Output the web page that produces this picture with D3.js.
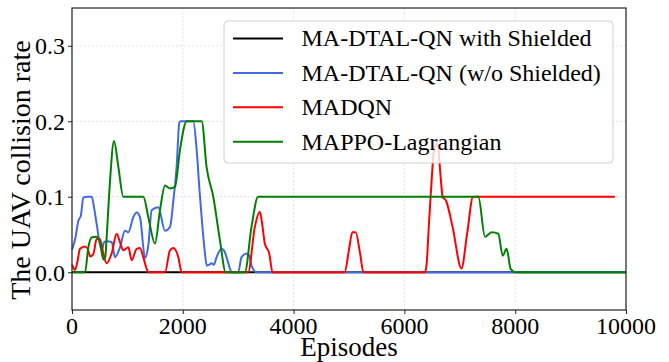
<!DOCTYPE html>
<html>
<head>
<meta charset="utf-8">
<script src="https://cdn.jsdelivr.net/npm/d3@7"></script>
<style>
  body { margin: 0; background: #fff; }
  svg text { font-family: "Liberation Serif", "Times New Roman", serif; fill: #000; }
</style>
</head>
<body>
<svg id="chart" width="669" height="362"></svg>
<script>
// series: episodes (x) and collision rate (y)
const blackEp  = [0, 10000];
const blackVal = [0, 0];

const blueEp  = [0, 60, 114, 160, 205, 280, 355, 400, 445, 535, 580, 625, 716, 776, 866, 957, 1017, 1107, 1167, 1227,
                 1318, 1378, 1438, 1558, 1679, 1769, 1830, 1889, 1937, 1960, 2190, 2250, 2300, 2340, 2400, 2430, 2480,
                 2520, 2560, 2610, 2700, 2750, 2790, 2850, 2880, 3000, 3060, 3150, 3200, 3240, 3330, 10000];
const blueVal = [0.030, 0.045, 0.068, 0.075, 0.099, 0.100, 0.100, 0.085, 0.064, 0.029, 0.040, 0.041, 0.040, 0.020, 0.033,
                 0.055, 0.053, 0.073, 0.079, 0.073, 0.019, 0.036, 0.082, 0.086, 0.055, 0.060, 0.095, 0.140, 0.198, 0.200,
                 0.200, 0.162, 0.110, 0.073, 0.025, 0.009, 0.010, 0.012, 0.010, 0.020, 0.031, 0.028, 0.020, 0.005, 0,
                 0, 0.020, 0.025, 0.022, 0.009, 0, 0];

const redEp  = [0, 54, 100, 144, 235, 290, 325, 385, 445, 505, 565, 625, 716, 806, 866, 926, 1017, 1077, 1167, 1227, 1287,
                1350, 1378, 1679, 1769, 1829, 1919, 1980, 3180, 3300, 3390, 3440, 3480, 3560, 3620, 4920, 5000, 5060,
                5120, 5200, 5260, 6370, 6400, 6440, 6490, 6540, 6600, 6650, 6690, 6750, 6870, 7030, 7130, 7240, 9800];
const redVal = [0.010, 0.003, 0.015, 0.031, 0.034, 0.030, 0.021, 0.024, 0.044, 0.044, 0.025, 0.012, 0.025, 0.051, 0.040,
                0.029, 0.033, 0.016, 0.031, 0.032, 0.020, 0.004, 0, 0, 0.029, 0.032, 0.020, 0, 0, 0.060, 0.080, 0.060,
                0.038, 0.025, 0, 0, 0.030, 0.053, 0.053, 0.025, 0, 0, 0.010, 0.060, 0.120, 0.165, 0.170, 0.130, 0.100,
                0.095, 0.060, 0.005, 0.050, 0.100, 0.100];

const greenEp  = [0, 235, 295, 355, 445, 505, 565, 600, 625, 686, 758, 836, 926, 1287, 1378, 1498, 1588, 1679, 1769, 1859,
                  1949, 2070, 2341, 2430, 2550, 2671, 2775, 3120, 3240, 3360, 7335, 7455, 7575, 7695, 7775, 7845, 7920,
                  8015, 10000];
const greenVal = [0, 0, 0.033, 0.046, 0.047, 0.040, 0.017, 0.020, 0.046, 0.121, 0.174, 0.140, 0.100, 0.100, 0.073, 0.038,
                  0.082, 0.115, 0.111, 0.113, 0.162, 0.200, 0.200, 0.139, 0.100, 0.042, 0, 0, 0.060, 0.100, 0.100, 0.047,
                  0.053, 0.051, 0.022, 0.031, 0.004, 0, 0];

const labels = ["MA-DTAL-QN with Shielded", "MA-DTAL-QN (w/o Shielded)", "MADQN", "MAPPO-Lagrangian"];
const colors = ["#000000", "#4169e1", "#ff0000", "#008000"];
const xTicks = [0, 2000, 4000, 6000, 8000, 10000];
const yTicks = [0, 0.1, 0.2, 0.3];

const series = [
  {ep: blackEp, val: blackVal},
  {ep: blueEp, val: blueVal},
  {ep: redEp, val: redVal},
  {ep: greenEp, val: greenVal}
];

const svg = d3.select("#chart");
const pLeft = 72, pRight = 626, pTop = 8, pBottom = 310;

const x = d3.scaleLinear().domain([0, 10000]).range([pLeft, pRight]);
const y = d3.scaleLinear().domain([-0.05, 0.35]).range([pBottom, pTop]);

// grid
svg.append("g").selectAll("line").data(xTicks).join("line")
  .attr("x1", d => x(d)).attr("x2", d => x(d)).attr("y1", pTop).attr("y2", pBottom)
  .attr("stroke", "#d9d9d9").attr("stroke-width", 0.8).attr("stroke-dasharray", "2,2");
svg.append("g").selectAll("line").data(yTicks).join("line")
  .attr("x1", pLeft).attr("x2", pRight).attr("y1", d => y(d)).attr("y2", d => y(d))
  .attr("stroke", "#d9d9d9").attr("stroke-width", 0.8).attr("stroke-dasharray", "2,2");

// lines
const line = d3.line()
  .x(d => x(d[0]))
  .y(d => y(d[1]))
  .curve(d3.curveMonotoneX);

svg.append("g").selectAll("path").data(series).join("path")
  .attr("d", s => line(d3.zip(s.ep, s.val)))
  .attr("fill", "none")
  .attr("stroke", (s, i) => colors[i])
  .attr("stroke-width", 2)
  .attr("stroke-linejoin", "round");

// axes: tick marks from d3, labels drawn as plain serif text
svg.append("g").attr("transform", `translate(0,${pBottom})`)
  .call(d3.axisBottom(x).tickValues(xTicks).tickFormat("").tickSize(4))
  .call(g => g.select(".domain").remove())
  .call(g => g.selectAll("line").attr("stroke", "#222"));
svg.append("g").attr("transform", `translate(${pLeft},0)`)
  .call(d3.axisLeft(y).tickValues(yTicks).tickFormat("").tickSize(4))
  .call(g => g.select(".domain").remove())
  .call(g => g.selectAll("line").attr("stroke", "#222"));

svg.append("g").selectAll("text").data(xTicks).join("text")
  .attr("x", d => x(d)).attr("y", 334)
  .attr("text-anchor", "middle").style("font-size", "24px")
  .text(d3.format("d"));
svg.append("g").selectAll("text").data(yTicks).join("text")
  .attr("x", pLeft - 7).attr("y", d => y(d)).attr("dy", "0.35em")
  .attr("text-anchor", "end").style("font-size", "24px")
  .text(d3.format(".1f"));

// frame
svg.append("rect")
  .attr("x", pLeft).attr("y", pTop).attr("width", pRight - pLeft).attr("height", pBottom - pTop)
  .attr("fill", "none").attr("stroke", "#222").attr("stroke-width", 1.2);

// axis titles
svg.append("text")
  .attr("x", (pLeft + pRight) / 2).attr("y", 356)
  .attr("text-anchor", "middle").style("font-size", "27px")
  .text("Episodes");
svg.append("text")
  .attr("transform", `translate(30,170) rotate(-90)`)
  .attr("text-anchor", "middle").style("font-size", "28px")
  .text("The UAV collision rate");

// legend
const legend = svg.append("g");
legend.append("rect")
  .attr("x", 224).attr("y", 21).attr("width", 389).attr("height", 142).attr("rx", 4)
  .attr("fill", "#fff").attr("fill-opacity", 0.8).attr("stroke", "#d0d0d0");
labels.forEach((lab, i) => {
  const cy = 38.5 + i * 34.4;
  legend.append("line")
    .attr("x1", 233).attr("x2", 283).attr("y1", cy).attr("y2", cy)
    .attr("stroke", colors[i]).attr("stroke-width", 2);
  legend.append("text")
    .attr("x", 301.5).attr("y", cy).attr("dy", "0.33em")
    .style("font-size", "24px")
    .text(lab);
});
</script>
</body>
</html>
